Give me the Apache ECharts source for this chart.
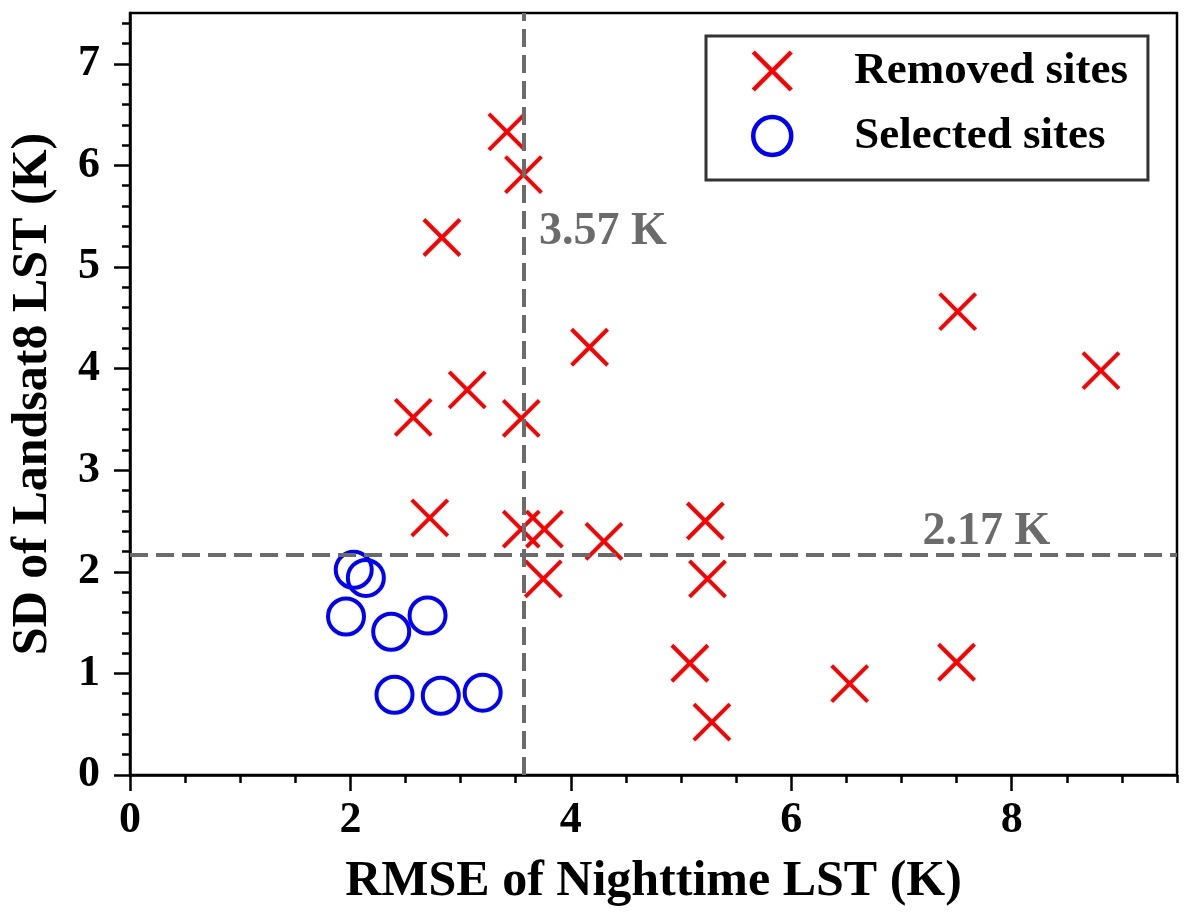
<!DOCTYPE html>
<html><head><meta charset="utf-8">
<script src="https://cdn.jsdelivr.net/npm/echarts@6/dist/echarts.min.js"></script>
<style>html,body{margin:0;padding:0;background:#fff}#c{width:1189px;height:921px}</style>
</head><body><div id="c"></div>
<script>
// Data
const removedX = [3.42, 3.57, 2.83, 4.17, 3.06, 2.57, 3.55, 2.72, 3.55, 3.76, 4.30, 5.22, 3.75, 5.24, 5.08, 5.28, 6.53, 7.50, 7.51, 8.81];
const removedY = [6.33, 5.91, 5.29, 4.21, 3.79, 3.52, 3.51, 2.53, 2.42, 2.42, 2.30, 2.50, 1.93, 1.93, 1.10, 0.52, 0.90, 1.11, 4.56, 3.98];
const selectedX = [2.03, 2.14, 1.96, 2.37, 2.70, 2.40, 2.82, 3.20];
const selectedY = [2.02, 1.94, 1.56, 1.41, 1.57, 0.79, 0.78, 0.81];
const thresholdRMSE = 3.57;
const thresholdSD = 2.17;
const annotationText = ['3.57 K', '2.17 K'];
const annotationX = [3.71, 7.19];
const annotationY = [5.34, 2.39];
const xMajorTicks = [0, 2, 4, 6, 8];
const yMajorTicks = [0, 1, 2, 3, 4, 5, 6, 7];
const xMinorTicks = [0, 0.5, 1, 1.5, 2, 2.5, 3, 3.5, 4, 4.5, 5, 5.5, 6, 6.5, 7, 7.5, 8, 8.5, 9, 9.5];
const yMinorTicks = [];
for (let i = 0; i <= 37; i++) yMinorTicks.push(+(i * 0.2).toFixed(1));
const seriesNames = ['Removed sites', 'Selected sites'];
const xName = 'RMSE of Nighttime LST (K)';
const yName = 'SD of Landsat8 LST (K)';

const FONT = 'Liberation Serif';
const removedData = removedX.map((x, i) => [x, removedY[i]]);
const selectedData = selectedX.map((x, i) => [x, selectedY[i]]);
const annotData = annotationX.map((x, i) => [x, annotationY[i], annotationText[i]]);

const chart = echarts.init(document.getElementById('c'), null, {renderer: 'canvas'});
chart.setOption({
  animation: false,
  backgroundColor: '#fff',
  grid: {left: 129, right: 12, top: 13, bottom: 146, show: true, borderColor: '#000', borderWidth: 2.5, backgroundColor: 'transparent'},
  legend: {
    orient: 'vertical', left: 706, top: 36,
    data: seriesNames,
    padding: [7, 20, 16, 45],
    itemGap: 9, itemWidth: 38, itemHeight: 38,
    borderColor: '#333', borderWidth: 3, borderRadius: 0,
    itemStyle: {opacity: 1, borderWidth: 4.5},
    textStyle: {fontFamily: FONT, fontWeight: 'bold', fontSize: 45, color: '#000', lineHeight: 56, padding: [0, 0, 0, 58]},
    selectedMode: false
  },
  xAxis: [{
    type: 'value', min: 0, max: 9.5, interval: 2, position: 'bottom',
    name: xName, nameLocation: 'middle', nameGap: 82,
    nameTextStyle: {fontFamily: FONT, fontWeight: 'bold', fontSize: 50, color: '#000'},
    axisLine: {show: true, lineStyle: {color: '#000', width: 2.5}},
    axisTick: {show: true, inside: false, length: 16, customValues: xMajorTicks, lineStyle: {color: '#000', width: 2.5}},
    axisLabel: {show: true, customValues: xMajorTicks, margin: 24, fontFamily: FONT, fontWeight: 'bold', fontSize: 44, color: '#000'},
    splitLine: {show: false}
  }, {
    type: 'value', min: 0, max: 9.5, interval: 0.5, position: 'bottom',
    axisLine: {show: false},
    axisTick: {show: true, inside: false, length: 8, customValues: xMinorTicks, lineStyle: {color: '#000', width: 2.5}},
    axisLabel: {show: false},
    splitLine: {show: false}
  }],
  yAxis: [{
    type: 'value', min: 0, max: 7.5, interval: 1, position: 'left',
    name: yName, nameLocation: 'middle', nameGap: 72,
    nameTextStyle: {fontFamily: FONT, fontWeight: 'bold', fontSize: 50, color: '#000'},
    axisLine: {show: true, lineStyle: {color: '#000', width: 2.5}},
    axisTick: {show: true, inside: false, length: 16, customValues: yMajorTicks, lineStyle: {color: '#000', width: 2.5}},
    axisLabel: {show: true, customValues: yMajorTicks, margin: 30, fontFamily: FONT, fontWeight: 'bold', fontSize: 44, color: '#000'},
    splitLine: {show: false}
  }, {
    type: 'value', min: 0, max: 7.5, interval: 0.2, position: 'left',
    axisLine: {show: false},
    axisTick: {show: true, inside: false, length: 8, customValues: yMinorTicks, lineStyle: {color: '#000', width: 2.5}},
    axisLabel: {show: false},
    splitLine: {show: false}
  }],
  series: [{
    name: seriesNames[0], type: 'scatter', xAxisIndex: 0, yAxisIndex: 0,
    symbol: 'path://M0,0L10,10M10,0L0,10', symbolSize: 36,
    itemStyle: {color: 'rgba(0,0,0,0)', borderColor: '#ff0000', borderWidth: 4, opacity: 1},
    emphasis: {disabled: true},
    data: removedData, z: 2
  }, {
    name: seriesNames[1], type: 'scatter', xAxisIndex: 0, yAxisIndex: 0,
    symbol: 'circle', symbolSize: 36,
    itemStyle: {color: 'rgba(0,0,0,0)', borderColor: '#0000ff', borderWidth: 4, opacity: 1},
    emphasis: {disabled: true},
    data: selectedData, z: 2
  }, {
    name: 'annotations', type: 'scatter', xAxisIndex: 0, yAxisIndex: 0,
    symbolSize: 0, silent: true, z: 5,
    itemStyle: {opacity: 1},
    label: {show: true, position: 'inside', align: 'left', verticalAlign: 'middle',
      formatter: p => p.value[2], fontFamily: FONT, fontWeight: 'bold', fontSize: 46, color: '#6b6b6b', opacity: 1},
    data: annotData,
    markLine: {
      silent: true, symbol: ['none', 'none'], z: 5,
      label: {show: false},
      lineStyle: {type: [18, 8], width: 4, color: '#6b6b6b', opacity: 1},
      emphasis: {disabled: true},
      data: [{xAxis: thresholdRMSE}, {yAxis: thresholdSD}]
    }
  }]
});
</script></body></html>
